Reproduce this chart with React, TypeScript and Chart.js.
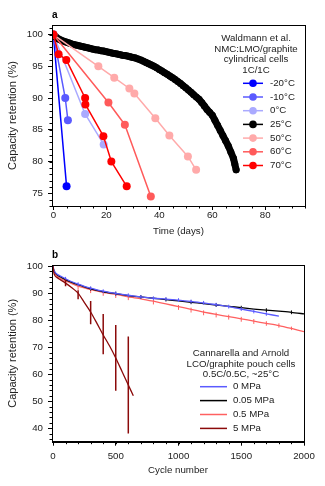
import React, { useEffect, useRef } from 'react';
import { Chart, registerables } from 'chart.js';
Chart.register(...registerables);

const FONT = '"Liberation Sans", Arial, Helvetica, sans-serif';
const TXT = '#222222';

// ---------------- Panel a: Waldmann et al. ----------------
const aTitleLines = ['Waldmann et al.', 'NMC:LMO/graphite', 'cylindrical cells', '1C/1C'];
const aLabels = ['-20°C', '-10°C', '0°C', '25°C', '50°C', '60°C', '70°C'];
const aColors = ['#0000ff', '#5a5aff', '#aaaaff', '#000000', '#ffaaaa', '#ff5a5a', '#ff0000'];
const aXTicks = [0, 20, 40, 60, 80];
const aYTicks = [75, 80, 85, 90, 95, 100];

const daysM20 = [0, 5];
const retM20 = [100, 76.1];
const daysM10 = [0, 4.5, 5.5];
const retM10 = [100, 90.0, 86.5];
const days0 = [0, 12, 19];
const ret0 = [100, 87.5, 82.7];
const days25 = [0, 1, 2, 3, 4, 5, 6, 7, 8, 9, 10, 11, 12, 13, 14, 15, 16, 17, 18, 19, 20, 21, 22, 23, 24, 25, 26, 27, 28, 29, 30, 31, 32, 33, 34, 35, 36, 37, 38, 39, 40, 41, 42, 43, 44, 45, 46, 47, 48, 49, 50, 51, 52, 53, 54, 55, 56, 57, 58, 59, 60, 61, 62, 63, 64, 65, 66, 67, 68, 68.5, 69];
const ret25 = [100, 99.6, 99.3, 99.1, 98.95, 98.8, 98.65, 98.5, 98.4, 98.3, 98.2, 98.1, 98.0, 97.9, 97.8, 97.7, 97.6, 97.55, 97.45, 97.4, 97.3, 97.2, 97.1, 97.0, 96.95, 96.85, 96.75, 96.7, 96.6, 96.5, 96.4, 96.3, 96.15, 96.0, 95.8, 95.6, 95.4, 95.2, 95.0, 94.75, 94.5, 94.25, 94.0, 93.75, 93.45, 93.2, 92.9, 92.6, 92.3, 91.95, 91.6, 91.25, 90.9, 90.5, 90.15, 89.8, 89.3, 88.75, 88.2, 87.75, 87.3, 86.5, 85.7, 84.9, 84.1, 83.3, 82.5, 81.5, 80.5, 79.6, 78.7];
const days50 = [0, 17, 23, 28.7, 30.6, 38.5, 43.8, 50.8, 53.9];
const ret50 = [100, 95.0, 93.2, 91.5, 90.7, 86.8, 84.1, 80.8, 78.7];
const days60 = [0, 20.8, 27, 36.8];
const ret60 = [100, 89.3, 85.8, 74.5];
const days70 = [0, 2, 4.9, 12, 12.1, 18.9, 21.9, 27.7];
const ret70 = [100, 96.9, 96.0, 90.0, 89.0, 84.0, 80.0, 76.1];

const aDays = [daysM20, daysM10, days0, days25, days50, days60, days70];
const aRet = [retM20, retM10, ret0, ret25, ret50, ret60, ret70];

// ---------------- Panel b: Cannarella and Arnold ----------------
const bTitleLines = ['Cannarella and Arnold', 'LCO/graphite pouch cells', '0.5C/0.5C, ~25°C'];
const bLabels = ['0 MPa', '0.05 MPa', '0.5 MPa', '5 MPa'];
const bColors = ['#5a5aff', '#000000', '#ff6060', '#8b0a0a'];
const bXTicks = [0, 500, 1000, 1500, 2000];
const bYTicks = [40, 50, 60, 70, 80, 90, 100];

const cyc0 = [0, 5, 10, 20, 40, 60, 100, 150, 200, 250, 300, 350, 400, 450, 500, 600, 700, 800, 900, 1000, 1100, 1200, 1300, 1400, 1500, 1600, 1700, 1800];
const ret0M = [100, 98.8, 98.2, 97.5, 96.8, 96.3, 95.3, 94.2, 93.3, 92.5, 91.8, 91.2, 90.7, 90.3, 89.9, 89.2, 88.6, 88.1, 87.8, 87.4, 86.9, 86.4, 85.7, 85.0, 84.1, 83.2, 82.3, 81.5];
const cyc005 = [0, 5, 10, 20, 40, 60, 100, 150, 200, 250, 300, 350, 400, 500, 600, 700, 800, 900, 1000, 1100, 1200, 1300, 1400, 1500, 1600, 1700, 1800, 1900, 2000];
const ret005 = [100, 98.7, 98.1, 97.3, 96.5, 96.0, 95.0, 94.0, 93.1, 92.3, 91.6, 91.0, 90.5, 89.8, 89.1, 88.6, 88.1, 87.6, 87.1, 86.6, 86.1, 85.6, 85.1, 84.6, 84.1, 83.7, 83.3, 82.9, 82.3];
const cyc05 = [0, 5, 10, 20, 40, 60, 100, 150, 200, 250, 300, 400, 500, 600, 700, 800, 900, 1000, 1100, 1200, 1300, 1400, 1500, 1600, 1700, 1800, 1900, 2000];
const ret05 = [100, 98.5, 97.8, 96.9, 96.0, 95.4, 94.5, 93.5, 92.6, 91.9, 91.3, 90.3, 89.5, 88.6, 87.9, 87.0, 86.0, 85.0, 84.0, 83.0, 82.1, 81.3, 80.5, 79.6, 78.8, 78.0, 76.9, 75.7];
const cyc5 = [0, 5, 10, 20, 40, 60, 100, 150, 200, 250, 300, 350, 400, 450, 500, 550, 600, 640];
const ret5 = [100, 98.0, 97.0, 96.2, 95.5, 94.9, 93.7, 92.0, 90.0, 86.5, 83.0, 78.8, 74.5, 70.5, 66.0, 61.0, 56.0, 52.0];

// error bars: cycle, low, high
const err0Cyc = [100, 200, 300, 400, 500, 600, 700, 800, 900, 1000, 1100, 1200, 1300, 1400, 1500, 1600, 1700];
const err0Lo = [94.6, 92.6, 91.1, 90.0, 89.2, 88.5, 87.9, 87.4, 87.1, 86.7, 86.2, 85.7, 85.0, 84.3, 83.4, 82.5, 81.6];
const err0Hi = [96.0, 94.0, 92.5, 91.4, 90.6, 89.9, 89.3, 88.8, 88.5, 88.1, 87.6, 87.1, 86.4, 85.7, 84.8, 83.9, 83.0];
const err005Cyc = [100, 300, 500, 700, 900, 1100, 1300, 1500, 1700, 1900];
const err005Lo = [94.4, 90.9, 89.1, 87.9, 86.9, 85.9, 84.9, 83.9, 83.0, 82.2];
const err005Hi = [95.6, 92.3, 90.5, 89.3, 88.3, 87.3, 86.3, 85.3, 84.4, 83.6];
const err05Cyc = [100, 200, 300, 400, 500, 600, 800, 1000, 1100, 1200, 1300, 1400, 1500, 1600, 1700, 1800, 1900];
const err05Lo = [93.2, 91.2, 90.0, 89.0, 88.2, 87.4, 85.8, 83.8, 82.8, 81.8, 81.0, 80.2, 79.4, 78.6, 77.9, 77.2, 76.3];
const err05Hi = [95.0, 93.2, 91.9, 90.9, 89.9, 89.1, 87.5, 85.6, 84.6, 83.6, 82.8, 82.0, 81.2, 80.4, 79.6, 78.8, 77.6];
const err5Cyc = [100, 200, 300, 400, 500, 600];
const err5Lo = [92.5, 87.7, 78.5, 67.4, 53.9, 38.0];
const err5Hi = [95.0, 91.1, 87.1, 82.3, 78.2, 73.9];

const bCyc = [cyc0, cyc005, cyc05, cyc5];
const bRet = [ret0M, ret005, ret05, ret5];
const bErr = [
  [err0Cyc, err0Lo, err0Hi],
  [err005Cyc, err005Lo, err005Hi],
  [err05Cyc, err05Lo, err05Hi],
  [err5Cyc, err5Lo, err5Hi],
];

const zip = (xs: number[], ys: number[]) => xs.map((x, i) => ({ x, y: ys[i] }));
const errData = (c: number[], lo: number[], hi: number[]) =>
  c.flatMap((x, i) => [{ x, y: lo[i] }, { x, y: hi[i] }, { x, y: null as any }]);

type FrameCfg = {
  letter: string;
  xMinorStep: number;
  yMinorStep: number;
  legend: {
    titleLines: string[];
    titleCx: number;
    titleY0: number;
    titleDy: number;
    entryY0: number;
    entryDy: number;
    lineX1: number;
    lineX2: number;
    textX: number;
    marker: boolean;
    count: number;
  };
};

const framePlugin = (cfg: FrameCfg) => ({
  id: 'frameAndLegend',
  afterDraw(chart: any) {
    const { ctx, chartArea } = chart;
    const xs = chart.scales.x;
    const ys = chart.scales.y;
    ctx.save();
    ctx.strokeStyle = '#000';
    ctx.lineWidth = 1;
    ctx.strokeRect(Math.round(chartArea.left) + 0.5, Math.round(chartArea.top) + 0.5,
      Math.round(chartArea.right - chartArea.left), Math.round(chartArea.bottom - chartArea.top));
    ctx.beginPath();
    for (let v = Math.ceil(xs.min / cfg.xMinorStep) * cfg.xMinorStep; v <= xs.max; v += cfg.xMinorStep) {
      const px = Math.round(xs.getPixelForValue(v)) + 0.5;
      ctx.moveTo(px, chartArea.bottom);
      ctx.lineTo(px, chartArea.bottom + 2.5);
    }
    for (let v = Math.ceil(ys.min / cfg.yMinorStep) * cfg.yMinorStep; v <= ys.max; v += cfg.yMinorStep) {
      const py = Math.round(ys.getPixelForValue(v)) + 0.5;
      ctx.moveTo(chartArea.left, py);
      ctx.lineTo(chartArea.left - 2.5, py);
    }
    ctx.stroke();
    ctx.fillStyle = '#000';
    ctx.font = `bold 10px ${FONT}`;
    ctx.textBaseline = 'middle';
    ctx.textAlign = 'left';
    ctx.fillText(cfg.letter, chartArea.left, 15);
    const L = cfg.legend;
    ctx.fillStyle = TXT;
    ctx.font = `9.7px ${FONT}`;
    ctx.textAlign = 'center';
    L.titleLines.forEach((t, i) => ctx.fillText(t, L.titleCx, L.titleY0 + i * L.titleDy));
    ctx.textAlign = 'left';
    for (let i = 0; i < L.count; i++) {
      const ds = chart.data.datasets[i];
      const y = L.entryY0 + i * L.entryDy;
      ctx.strokeStyle = ds.borderColor;
      ctx.lineWidth = 1.5;
      ctx.beginPath();
      ctx.moveTo(L.lineX1, y);
      ctx.lineTo(L.lineX2, y);
      ctx.stroke();
      if (L.marker) {
        ctx.fillStyle = ds.borderColor;
        ctx.beginPath();
        ctx.arc((L.lineX1 + L.lineX2) / 2, y, 3.8, 0, Math.PI * 2);
        ctx.fill();
      }
      ctx.fillStyle = TXT;
      ctx.fillText(ds.label, L.textX, y);
    }
    ctx.restore();
  },
});

function axisCommon(ticksArr: number[], min: number, max: number, title: string, isX: boolean, size: number, tickPad: number, titlePad: any, titleSize: number) {
  return {
    type: 'linear',
    min,
    max,
    afterBuildTicks: (s: any) => { s.ticks = ticksArr.map((value) => ({ value })); },
    afterFit: (s: any) => { if (isX) s.height = size; else s.width = size; },
    grid: { display: true, drawOnChartArea: false, drawTicks: true, tickLength: 4, color: '#000', lineWidth: 1 },
    border: { display: true, color: '#000', width: 1 },
    ticks: {
      font: { family: FONT, size: 9.7 }, color: TXT, padding: tickPad, maxRotation: 0, autoSkip: false,
      callback: (v: any) => String(v),
    },
    title: { display: true, text: title, font: { family: FONT, size: titleSize }, color: TXT, padding: titlePad },
  };
}

function PanelA() {
  const ref = useRef<HTMLCanvasElement>(null);
  useEffect(() => {
    const datasets: any[] = aLabels.map((label, i) => ({
      label,
      data: zip(aDays[i], aRet[i]),
      borderColor: aColors[i],
      backgroundColor: aColors[i],
      borderWidth: i === 3 ? 7 : 1.5,
      borderCapStyle: 'round',
      borderJoinStyle: 'round',
      pointRadius: i === 3 ? 3.5 : 4,
      pointBorderWidth: 0,
      pointHoverRadius: 4,
      order: 6 - i,
    }));
    const chart = new Chart(ref.current!, {
      type: 'line',
      data: { datasets },
      options: {
        animation: false,
        responsive: true,
        maintainAspectRatio: false,
        layout: { padding: { top: 25, right: 20, left: 0, bottom: 0 } },
        plugins: { legend: { display: false }, tooltip: { enabled: false } },
        scales: {
          x: axisCommon(aXTicks, -0.5, 95, 'Time (days)', true, 34, 0, { top: 2, bottom: 3 }, 9.7),
          y: axisCommon(aYTicks, 73, 101.5, 'Capacity retention (%)', false, 52, 5, { top: 6, bottom: 2 }, 11),
        } as any,
      },
      plugins: [framePlugin({
        letter: 'a', xMinorStep: 5, yMinorStep: 1,
        legend: {
          titleLines: aTitleLines, titleCx: 256, titleY0: 38.5, titleDy: 10.6,
          entryY0: 83.3, entryDy: 13.7, lineX1: 243, lineX2: 263, textX: 270, marker: true, count: 7,
        },
      })],
    } as any);
    return () => chart.destroy();
  }, []);
  return <div style={{ position: 'relative', width: 325, height: 240 }}><canvas ref={ref} /></div>;
}

function PanelB() {
  const ref = useRef<HTMLCanvasElement>(null);
  useEffect(() => {
    const orders = [2, 3, 4, 0];
    const datasets: any[] = bLabels.map((label, i) => ({
      label,
      data: zip(bCyc[i], bRet[i]),
      borderColor: bColors[i],
      backgroundColor: bColors[i],
      borderWidth: 1.3,
      pointRadius: 0,
      tension: 0.2,
      order: orders[i],
    }));
    bErr.forEach((e, i) => {
      datasets.push({
        label: bLabels[i] + ' err',
        data: errData(e[0], e[1], e[2]),
        borderColor: bColors[i],
        backgroundColor: bColors[i],
        borderWidth: i === 3 ? 1.5 : 1,
        pointRadius: 0,
        spanGaps: false,
        order: orders[i] + 0.5,
      });
    });
    const chart = new Chart(ref.current!, {
      type: 'line',
      data: { datasets },
      options: {
        animation: false,
        responsive: true,
        maintainAspectRatio: false,
        layout: { padding: { top: 25, right: 21, left: 0, bottom: 0 } },
        plugins: { legend: { display: false }, tooltip: { enabled: false } },
        scales: {
          x: axisCommon(bXTicks, -8, 2000, 'Cycle number', true, 44.3, 5, { top: 2, bottom: 10 }, 9.7),
          y: axisCommon(bYTicks, 35, 100.4, 'Capacity retention (%)', false, 52, 5, { top: 6, bottom: 2 }, 11),
        } as any,
      },
      plugins: [framePlugin({
        letter: 'b', xMinorStep: 100, yMinorStep: 2,
        legend: {
          titleLines: bTitleLines, titleCx: 241, titleY0: 113.3, titleDy: 10.7,
          entryY0: 146.7, entryDy: 13.9, lineX1: 200, lineX2: 227, textX: 233, marker: false, count: 4,
        },
      })],
    } as any);
    return () => chart.destroy();
  }, []);
  return <div style={{ position: 'relative', width: 325, height: 246 }}><canvas ref={ref} /></div>;
}

export default function App() {
  return (
    <div style={{ position: 'absolute', left: 0, top: 0, width: 325, height: 486, background: '#fff' }}>
      <PanelA />
      <PanelB />
    </div>
  );
}
